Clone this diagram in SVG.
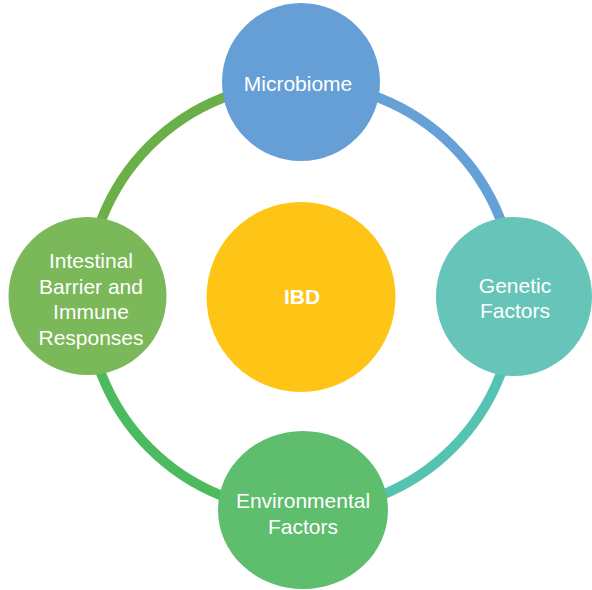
<svg xmlns="http://www.w3.org/2000/svg" width="592" height="590" viewBox="0 0 592 590">
  <style>
    .ring { fill: none; stroke-width: 10; }
    .label { font-family: "Liberation Sans", Arial, sans-serif; font-size: 21px; fill: #ffffff; text-anchor: middle; }
    .bold { font-weight: bold; }
  </style>
  <rect width="592" height="590" fill="#ffffff"/>

  <!-- cycle ring: four arcs around the centre -->
  <g id="connectors">
    <path class="ring" stroke="#65a0d6" d="M 301 83 A 214 214 0 0 1 515 297"/>
    <path class="ring" stroke="#55c3b2" d="M 515 297 A 214 214 0 0 1 301 511"/>
    <path class="ring" stroke="#4cba5f" d="M 301 511 A 214 214 0 0 1 87 297"/>
    <path class="ring" stroke="#6aaf48" d="M 87 297 A 214 214 0 0 1 301 83"/>
  </g>

  <g id="ibd">
    <ellipse cx="301" cy="297" rx="94.5" ry="95" fill="#fec517"/>
    <text class="label bold" x="302" y="304">IBD</text>
  </g>

  <g id="microbiome">
    <circle cx="301" cy="82" r="79" fill="#659fd6"/>
    <text class="label" x="298" y="90.5">Microbiome</text>
  </g>

  <g id="genetic">
    <ellipse cx="514" cy="296.5" rx="78" ry="79.5" fill="#66c5b8"/>
    <text class="label" x="515" y="292.5">Genetic</text>
    <text class="label" x="515" y="317.5">Factors</text>
  </g>

  <g id="environmental">
    <ellipse cx="303" cy="510" rx="85" ry="79" fill="#5fbd6e"/>
    <text class="label" x="303" y="507.5">Environmental</text>
    <text class="label" x="303" y="533.5">Factors</text>
  </g>

  <g id="barrier">
    <circle cx="87.5" cy="296" r="79" fill="#7ab85a"/>
    <text class="label" x="91" y="268">Intestinal</text>
    <text class="label" x="91" y="293.5">Barrier and</text>
    <text class="label" x="91" y="318.5">Immune</text>
    <text class="label" x="91" y="344.5">Responses</text>
  </g>
</svg>
